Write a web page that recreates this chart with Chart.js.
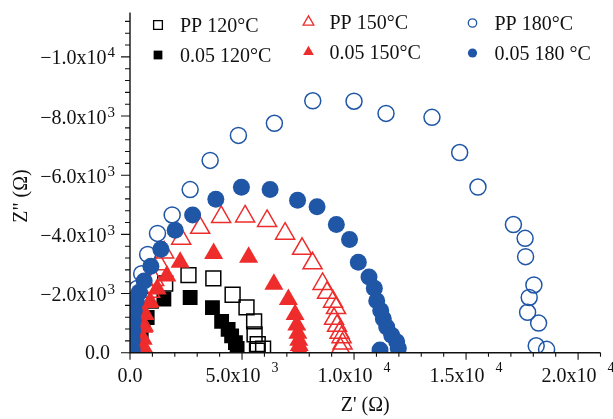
<!DOCTYPE html>
<html>
<head>
<meta charset="utf-8">
<script src="https://cdn.jsdelivr.net/npm/chart.js@4/dist/chart.umd.min.js"></script>
<style>
  html, body { margin: 0; padding: 0; background: #ffffff; }
  #wrap { width: 613px; height: 419px; }
</style>
</head>
<body>
<div id="wrap"><canvas id="nyquist" width="613" height="419"></canvas></div>
<script>
// Nyquist plots: Z' (real) vs Z'' (imaginary), in ohms
const pp120X   = [366, 544, 923, 1570, 2610, 3720, 4580, 5200, 5540, 5560, 5700, 5940, 5670];
const pp120Y   = [-490, -1020, -1760, -2340, -2620, -2510, -1960, -1530, -1060, -620, -290, -140, -70];

const cb120X   = [410, 500, 767, 1512, 2685, 3680, 4090, 4380, 4536, 4705, 4781];
const cb120Y   = [-257, -690, -1190, -1813, -1867, -1523, -1057, -790, -567, -340, -147];

const pp150X   = [566, 589, 767, 901, 1079, 1302, 1525, 2284, 3131, 4068, 5138, 6119, 6922, 7680, 8148, 8594, 8795, 9063, 9197, 9107, 9241, 9353, 9442, 9486, 9397];
const pp150Y   = [-190, -923, -1723, -2057, -2457, -2990, -3390, -3856, -4223, -4590, -4606, -4456, -4023, -3513, -3023, -2323, -2023, -1723, -1507, -1147, -907, -673, -523, -307, -140];

const cb150X   = [575, 589, 611, 678, 901, 1213, 1646, 2239, 3733, 5294, 6422, 7069, 7368, 7444, 7493, 7533, 7555, 7569];
const cb150Y   = [-157, -457, -857, -1290, -1723, -2157, -2590, -3056, -3356, -3223, -2313, -1797, -1290, -940, -657, -423, -240, -90];

const pp180X   = [31, 54, 98, 165, 210, 321, 522, 789, 1227, 1882, 2685, 3577, 4839, 6445, 8157, 9999, 11427, 13478, 14714, 15530, 17113, 17635, 17657, 18027, 17818, 17746, 18237, 18130, 18594];
const pp180Y   = [-157, -590, -1023, -1423, -1790, -2173, -2673, -3323, -4033, -4656, -5513, -6500, -7346, -7756, -8516, -8500, -8089, -7956, -6766, -5600, -4333, -3866, -3246, -2290, -1867, -1367, -1000, -233, -113];

const cb180X   = [98, 98, 120, 143, 187, 277, 410, 633, 932, 1378, 2016, 2796, 3831, 4973, 6253, 7479, 8349, 9210, 9799, 10191, 10668, 10905, 11012, 11190, 11306, 11458, 11681, 11904, 11975, 11159];
const cb180Y   = [-90, -423, -757, -1090, -1423, -1757, -2040, -2423, -2923, -3500, -4140, -4656, -5190, -5590, -5513, -5156, -4933, -4333, -3823, -3056, -2556, -2180, -1757, -1423, -1147, -867, -590, -367, -147, -90];

// Axis ticks and labels (mantissa + superscript exponent)
const xTickValues = [0, 5000, 10000, 15000, 20000];
const xTickText   = ['0.0', '5.0x10', '1.0x10', '1.5x10', '2.0x10'];
const xTickPower  = ['', '3', '4', '4', '4'];
const yTickValues = [0, -2000, -4000, -6000, -8000, -10000];
const yTickText   = ['0.0', '\u22122.0x10', '\u22124.0x10', '\u22126.0x10', '\u22128.0x10', '\u22121.0x10'];
const yTickPower  = ['', '3', '3', '3', '3', '4'];

const seriesNames = ['PP 120\u00B0C', '0.05 120\u00B0C', 'PP 150\u00B0C', '0.05 150\u00B0C', 'PP 180\u00B0C', '0.05 180 \u00B0C'];

const BLUE = '#1f56a6';
const RED = '#ee2c2c';
const BLACK = '#000000';
const SERIF = '"Liberation Serif", "Times New Roman", serif';

function pts(xs, ys) { return xs.map((x, i) => ({ x: x, y: ys[i] })); }

// Marker styles per series (legend reuses them at a smaller size)
const styles = {
  pp120: { shape: 'rect', color: BLACK, filled: false, r: 10.5, lr: 6.2 },
  cb120: { shape: 'rect', color: BLACK, filled: true,  r: 10.5, lr: 6.2 },
  pp150: { shape: 'triangle', color: RED, filled: false, r: 11, lr: 6.2 },
  cb150: { shape: 'triangle', color: RED, filled: true,  r: 11, lr: 6.2 },
  pp180: { shape: 'circle', color: BLUE, filled: false, r: 8, lr: 4.2 },
  cb180: { shape: 'circle', color: BLUE, filled: true,  r: 8.5, lr: 4.6 }
};

function ds(label, data, st) {
  return {
    label: label,
    data: data,
    pointStyle: st.shape,
    pointRadius: st.r,
    pointHoverRadius: st.r,
    pointBorderColor: st.color,
    pointBackgroundColor: st.filled ? st.color : 'rgba(0,0,0,0)',
    pointBorderWidth: st.filled ? 0 : 1.5,
    showLine: false,
    clip: 0
  };
}

// First dataset is painted last (on top)
const datasets = [
  ds(seriesNames[5], pts(cb180X, cb180Y), styles.cb180),
  ds(seriesNames[4], pts(pp180X, pp180Y), styles.pp180),
  ds(seriesNames[3], pts(cb150X, cb150Y), styles.cb150),
  ds(seriesNames[2], pts(pp150X, pp150Y), styles.pp150),
  ds(seriesNames[1], pts(cb120X, cb120Y), styles.cb120),
  ds(seriesNames[0], pts(pp120X, pp120Y), styles.pp120)
];

function drawMarker(ctx, st, x, y, r) {
  ctx.save();
  ctx.beginPath();
  if (st.shape === 'rect') {
    const h = r * Math.SQRT1_2;
    ctx.rect(x - h, y - h, 2 * h, 2 * h);
  } else if (st.shape === 'triangle') {
    for (let k = 0; k < 3; k++) {
      const a = k * 2 * Math.PI / 3;
      const px = x + Math.sin(a) * r, py = y - Math.cos(a) * r;
      if (k === 0) ctx.moveTo(px, py); else ctx.lineTo(px, py);
    }
    ctx.closePath();
  } else {
    ctx.arc(x, y, r, 0, Math.PI * 2);
  }
  if (st.filled) { ctx.fillStyle = st.color; ctx.fill(); }
  else { ctx.lineWidth = 1.3; ctx.strokeStyle = st.color; ctx.stroke(); }
  ctx.restore();
}

const frame = {
  id: 'frame',
  afterDatasetsDraw(chart) {
    const ctx = chart.ctx;
    const xs = chart.scales.x, ys = chart.scales.y;
    const area = chart.chartArea;
    const x0 = xs.getPixelForValue(0);
    const y0 = ys.getPixelForValue(0);
    ctx.save();
    ctx.strokeStyle = '#111';
    ctx.lineWidth = 1.4;
    // axis lines
    ctx.beginPath();
    ctx.moveTo(x0, area.top);
    ctx.lineTo(x0, y0);
    ctx.lineTo(area.right, y0);
    ctx.stroke();
    // x ticks
    ctx.lineWidth = 1.1;
    ctx.beginPath();
    for (let v = 0; v <= xs.max + 1; v += 1000) {
      const p = xs.getPixelForValue(v);
      const len = (v % 5000 === 0) ? 7 : 4;
      ctx.moveTo(p, y0); ctx.lineTo(p, y0 + len);
    }
    // y ticks
    for (let v = 0; v >= ys.min - 1; v -= 400) {
      const p = ys.getPixelForValue(v);
      const len = (v % 2000 === 0) ? 9 : 5;
      ctx.moveTo(x0, p); ctx.lineTo(x0 - len, p);
    }
    ctx.stroke();

    ctx.fillStyle = '#111';
    // x tick labels
    ctx.textBaseline = 'alphabetic';
    xTickValues.forEach((v, i) => {
      const p = xs.getPixelForValue(v);
      ctx.font = '20px ' + SERIF;
      const wm = ctx.measureText(xTickText[i]).width;
      let ws = 0, gap = 0;
      if (xTickPower[i]) {
        ctx.font = '14px ' + SERIF;
        ws = ctx.measureText(xTickPower[i]).width;
        gap = 11;
      }
      const left = p - (wm + gap + ws) / 2;
      ctx.textAlign = 'left';
      ctx.font = '20px ' + SERIF;
      ctx.fillText(xTickText[i], left, y0 + 29);
      if (xTickPower[i]) {
        ctx.font = '14px ' + SERIF;
        ctx.fillText(xTickPower[i], left + wm + gap, y0 + 19);
      }
    });
    // y tick labels
    yTickValues.forEach((v, i) => {
      const p = ys.getPixelForValue(v);
      ctx.textAlign = 'right';
      if (yTickPower[i]) {
        ctx.font = '15px ' + SERIF;
        ctx.fillText(yTickPower[i], x0 - 15, p + 0.5);
        const ws = ctx.measureText(yTickPower[i]).width;
        ctx.font = '20px ' + SERIF;
        ctx.fillText(yTickText[i], x0 - 15 - ws - 1, p + 7.5);
      } else {
        ctx.font = '20px ' + SERIF;
        ctx.fillText(yTickText[i], x0 - 20, p + 6.5);
      }
    });

    // axis titles
    ctx.font = '20px ' + SERIF;
    ctx.textAlign = 'center';
    ctx.textBaseline = 'middle';
    ctx.fillText("Z' (\u03A9)", (area.left + area.right) / 2, 406);
    ctx.save();
    ctx.translate(22, 196);
    ctx.rotate(-Math.PI / 2);
    ctx.fillText('Z" (\u03A9)', 0, 0);
    ctx.restore();

    // legend, three columns by two rows
    const legendItems = [
      { st: styles.pp120, name: seriesNames[0], mx: 158,   tx: 180,   y: 25 },
      { st: styles.cb120, name: seriesNames[1], mx: 158,   tx: 180,   y: 55 },
      { st: styles.pp150, name: seriesNames[2], mx: 308.5, tx: 329.5, y: 22 },
      { st: styles.cb150, name: seriesNames[3], mx: 308.5, tx: 329.5, y: 52 },
      { st: styles.pp180, name: seriesNames[4], mx: 472.5, tx: 494.5, y: 23 },
      { st: styles.cb180, name: seriesNames[5], mx: 472.5, tx: 494.5, y: 53 }
    ];
    ctx.textAlign = 'left';
    ctx.textBaseline = 'alphabetic';
    ctx.font = '20px ' + SERIF;
    legendItems.forEach(it => {
      drawMarker(ctx, it.st, it.mx, it.y, it.st.lr);
      ctx.fillStyle = '#111';
      ctx.fillText(it.name, it.tx, it.y + 7);
    });
    ctx.restore();
  }
};

new Chart(document.getElementById('nyquist'), {
  type: 'scatter',
  data: { datasets: datasets },
  options: {
    responsive: false,
    animation: false,
    devicePixelRatio: 1,
    layout: { padding: { left: 130, right: 12, top: 7.7, bottom: 66.3 } },
    plugins: { legend: { display: false }, tooltip: { enabled: false } },
    scales: {
      x: { type: 'linear', min: 0, max: 21000, display: false },
      y: { type: 'linear', min: -11500, max: 0, reverse: true, display: false }
    }
  },
  plugins: [frame]
});
</script>
</body>
</html>
